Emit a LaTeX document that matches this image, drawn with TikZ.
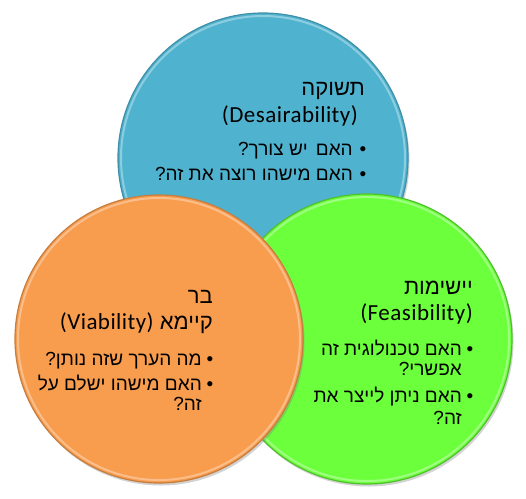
\documentclass[tikz,border=0pt]{standalone}
\usepackage{fontspec}
\usetikzlibrary{shadows}
\TeXXeTstate=1
\newfontfamily\heb[Script=Hebrew]{Liberation Sans}
\newfontfamily\lat[LetterSpace=2]{Carlito}
\definecolor{cblue}{HTML}{4FB3CF}
\definecolor{corange}{HTML}{F89C4E}
\definecolor{cgreen}{HTML}{6CFF3C}
\tikzset{
  disc/.style={circle, inner sep=0pt, minimum size=#1, drop shadow={shadow xshift=1.5pt, shadow yshift=-2.5pt, opacity=0.35}},
  rim/.style={draw=#1, line width=1.2pt},
  hl/.style={draw=white, draw opacity=0.35, line width=2pt},
  ttl/.style={anchor=base east, inner sep=0pt, font=\heb\fontsize{22}{26}\selectfont, text=black},
  txt/.style={anchor=base east, inner sep=0pt, font=\heb\fontsize{19}{23}\selectfont, text=black},
  ltxt/.style={anchor=base east, inner sep=0pt, font=\lat\fontsize{23}{27}\selectfont, text=black},
  bul/.style={anchor=base, inner sep=0pt, font=\heb\fontsize{19}{23}\selectfont, text=black},
}
\begin{document}
\begin{tikzpicture}[x=1pt,y=-1pt]
\useasboundingbox (0,0) rectangle (526,498);
% circles
\node[disc=290pt, fill=cblue, rim=cblue!80!black] (blue) at (263,158) {};
\draw[hl] (blue.center) circle (142pt);
\node[disc=290pt, fill=cgreen, rim=cgreen!75!black] (green) at (367,339) {};
\draw[hl] (green.center) circle (142pt);
\node[disc=288pt, fill=corange, rim=corange!80!black] (orange) at (159,339) {};
\draw[hl] (orange.center) circle (141pt);
% blue text
\node[ttl] (b1) at (365,95) {\beginR תשוקה\endR};
\node[ltxt] (b2) at (358,122) {(Desairability)};
\node[bul] (bb1) at (363,155) {•};
\node[txt] (b3) at (353,155) {\beginR האם\hspace{0.15em} יש צורך?\endR};
\node[bul] (bb2) at (363,180) {•};
\node[txt] (b4) at (353,180) {\beginR האם מישהו רוצה את זה?\endR};
% orange text
\node[ttl] (o1) at (213,303) {\beginR בר\endR};
\node[ttl] (o2) at (213,329) {\beginR קיימא {\lat\fontsize{23}{27}\selectfont\beginL(Viability)\endL}\endR};
\node[bul] (ob1) at (210,365) {•};
\node[txt] (o3) at (202,365) {\beginR מה הערך שזה נותן?\endR};
\node[bul] (ob2) at (210,390) {•};
\node[txt] (o4) at (202,390) {\beginR האם מישהו ישלם על\endR};
\node[txt] (o5) at (202,410) {\beginR זה?\endR};
% green text
\node[ttl] (g1) at (473,294) {\beginR יישימות\endR};
\node[ltxt] (g2) at (473,320) {(Feasibility)};
\node[bul] (gb1) at (470,355) {•};
\node[txt] (g3) at (462,355) {\beginR האם טכנולוגית זה\endR};
\node[txt] (g4) at (462,375) {\beginR אפשרי?\endR};
\node[bul] (gb2) at (470,402) {•};
\node[txt] (g5) at (462,402) {\beginR האם ניתן לייצר את\endR};
\node[txt] (g6) at (462,424) {\beginR זה?\endR};
\end{tikzpicture}
\end{document}
